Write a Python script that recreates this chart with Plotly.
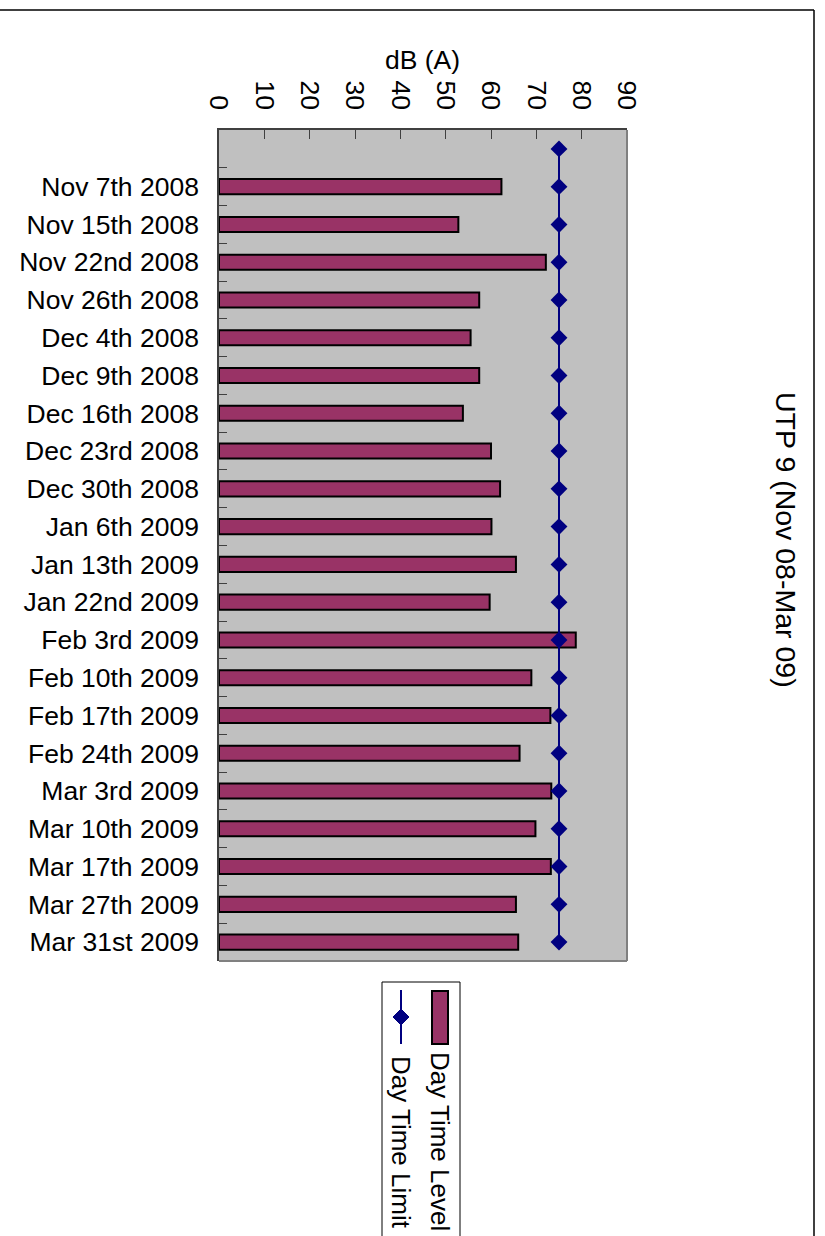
import plotly.graph_objects as go

# Sampling dates (first slot is an unlabeled lead-in for the limit line)
dates = [
    " ", "Nov 7th 2008", "Nov 15th 2008", "Nov 22nd 2008", "Nov 26th 2008",
    "Dec 4th 2008", "Dec 9th 2008", "Dec 16th 2008", "Dec 23rd 2008",
    "Dec 30th 2008", "Jan 6th 2009", "Jan 13th 2009", "Jan 22nd 2009",
    "Feb 3rd 2009", "Feb 10th 2009", "Feb 17th 2009", "Feb 24th 2009",
    "Mar 3rd 2009", "Mar 10th 2009", "Mar 17th 2009", "Mar 27th 2009",
    "Mar 31st 2009",
]
level_dates = dates[1:]
day_time_level = [
    62.3, 52.8, 72.1, 57.4, 55.5, 57.4, 53.8, 60.0, 62.0, 60.1, 65.5,
    59.7, 78.7, 68.9, 73.1, 66.3, 73.3, 69.8, 73.2, 65.5, 66.0,
]
day_time_limit = [
    75, 75, 75, 75, 75, 75, 75, 75, 75, 75, 75,
    75, 75, 75, 75, 75, 75, 75, 75, 75, 75, 75,
]
x_ticks = [0, 10, 20, 30, 40, 50, 60, 70, 80, 90]

W, H = 825, 1236
L, R, T, B = 219, 627, 130, 961
PW, PH = R - L, B - T


def px(x):
    return (x - L) / PW


def py(y):
    return (B - y) / PH


FONT = "Liberation Sans, Arial, sans-serif"
FS = 26.5
PLUM = "#993366"
NAVY = "#000080"

fig = go.Figure()
fig.add_trace(go.Bar(
    x=day_time_level, y=level_dates, orientation="h",
    marker=dict(color=PLUM, line=dict(color="#000000", width=2)),
    name="Day Time Level", hoverinfo="skip",
))
fig.add_trace(go.Scatter(
    x=day_time_limit, y=dates, mode="lines+markers",
    line=dict(color=NAVY, width=2),
    marker=dict(symbol="diamond", size=13, color=NAVY),
    name="Day Time Limit", hoverinfo="skip", cliponaxis=False,
))

shapes = [
    # plot frame (right and bottom)
    dict(type="line", xref="paper", yref="paper", x0=1, x1=1, y0=0, y1=1,
         line=dict(color="#808080", width=2)),
    dict(type="line", xref="paper", yref="paper", x0=0, x1=1, y0=0, y1=0,
         line=dict(color="#808080", width=2)),
    # outer chart border
    dict(type="line", xref="paper", yref="paper", x0=px(-5), x1=px(814),
         y0=py(10), y1=py(10), line=dict(color="#000000", width=1.5)),
    dict(type="line", xref="paper", yref="paper", x0=px(814), x1=px(814),
         y0=py(10), y1=py(1250), line=dict(color="#000000", width=1.5)),
    # legend box
    dict(type="rect", xref="paper", yref="paper", x0=px(382), x1=px(460),
         y0=py(982), y1=py(1250), line=dict(color="#000000", width=1),
         fillcolor="white"),
    # legend swatch: bar
    dict(type="rect", xref="paper", yref="paper", x0=px(432), x1=px(448),
         y0=py(991), y1=py(1044), line=dict(color="#000000", width=2),
         fillcolor=PLUM),
    # legend swatch: line with diamond
    dict(type="line", xref="paper", yref="paper", x0=px(401), x1=px(401),
         y0=py(990), y1=py(1044), line=dict(color=NAVY, width=2)),
    dict(type="path", xref="paper", yref="paper",
         path="M {a},{b} L {c},{d} L {a},{e} L {f},{d} Z".format(
             a=px(401), b=py(1009), c=px(409), d=py(1017), e=py(1025), f=px(393)),
         fillcolor=NAVY, line=dict(color=NAVY, width=1)),
]

annotations = [
    dict(text="dB (A)", xref="paper", yref="paper", x=px(422), y=py(60),
         showarrow=False, font=dict(family=FONT, size=FS, color="black"),
         xanchor="center", yanchor="middle"),
    dict(text="UTP 9 (Nov 08-Mar 09)", xref="paper", yref="paper",
         x=px(786), y=py(540), textangle=90, showarrow=False,
         font=dict(family=FONT, size=28.5, color="black"),
         xanchor="center", yanchor="middle"),
    dict(text="Day Time Level", xref="paper", yref="paper",
         x=px(440), y=py(1141), textangle=90, showarrow=False,
         font=dict(family=FONT, size=26, color="black"),
         xanchor="center", yanchor="middle"),
    dict(text="Day Time Limit", xref="paper", yref="paper",
         x=px(401), y=py(1142), textangle=90, showarrow=False,
         font=dict(family=FONT, size=26, color="black"),
         xanchor="center", yanchor="middle"),
]

fig.update_layout(
    width=W, height=H,
    margin=dict(l=L, r=W - R, t=T, b=H - B, pad=0),
    paper_bgcolor="white", plot_bgcolor="#C0C0C0",
    showlegend=False, bargap=0.6,
    font=dict(family=FONT, size=FS, color="black"),
    shapes=shapes, annotations=annotations,
    xaxis=dict(
        side="top", range=[0, 90], tickvals=x_ticks,
        tickangle=90, ticks="inside", ticklen=9, tickcolor="#404040",
        showline=True, linecolor="#404040", linewidth=1.5,
        showgrid=False, zeroline=False, fixedrange=True,
        tickfont=dict(family=FONT, size=FS, color="black"),
        ticklabelstandoff=9,
    ),
    yaxis=dict(
        type="category", categoryorder="array", categoryarray=dates,
        range=[len(dates) - 0.5, -0.5], autorange=False,
        tickson="boundaries",
        ticks="inside", ticklen=8, tickcolor="#404040",
        showline=True, linecolor="#404040", linewidth=1.5,
        showgrid=False, zeroline=False, fixedrange=True,
        tickfont=dict(family=FONT, size=FS, color="black"),
        ticklabelstandoff=13,
    ),
)

fig.write_html("out.html")
